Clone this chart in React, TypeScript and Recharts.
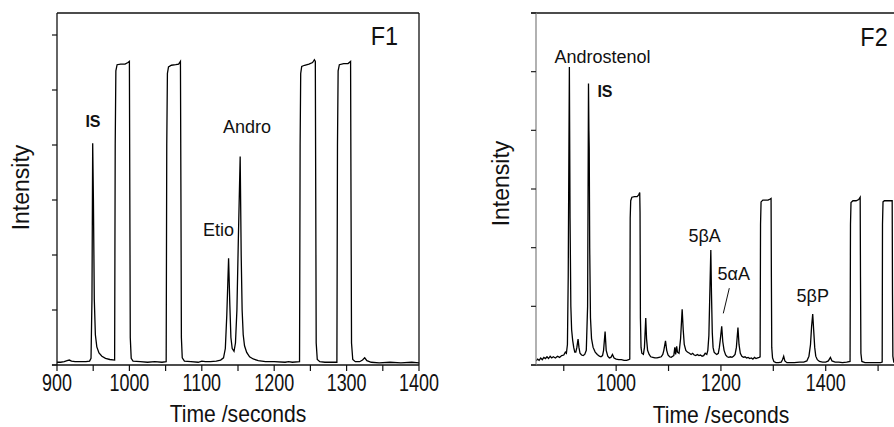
import React from 'react';
import { LineChart, Line, XAxis, YAxis, ReferenceDot, ReferenceLine } from 'recharts';

const FONT = '"Liberation Sans", Arial, Helvetica, sans-serif';

// ---------- Panel F1 ----------
const f1Time = [
  900, 905, 910, 914, 917, 920, 925, 932, 940, 945, 947, 948.3, 949.3, 950.3, 951.5, 953, 955, 958, 962, 967, 973,
  979.6, 980.4, 981.3, 983, 988, 994, 998, 1000, 1000.6, 1001.2, 1002.5, 1005, 1015, 1025, 1035, 1045,
  1050.8, 1051.6, 1052.5, 1054, 1058, 1064, 1068, 1070.5, 1071.2, 1071.8, 1073, 1076, 1085, 1095, 1100, 1105,
  1112, 1120, 1126, 1130, 1132.5, 1134.5, 1137, 1138.7, 1140.2, 1142, 1144.5, 1146.5, 1148.5, 1150.5, 1153,
  1154.4, 1155.7, 1157.2, 1159, 1162, 1166, 1171, 1178, 1188, 1200, 1215, 1220, 1225, 1235, 1235.8, 1236.6,
  1238, 1242, 1248, 1253, 1255.5, 1256.8, 1257.4, 1258, 1259.5, 1263, 1270, 1280, 1286.6, 1287.4, 1288.3,
  1290, 1296, 1302, 1305.5, 1306.1, 1306.8, 1308.5, 1312, 1318, 1322, 1325, 1328, 1334, 1345, 1360, 1375,
  1390, 1400,
];
const f1Intensity = [
  0.05, 0.05, 0.06, 0.08, 0.09, 0.07, 0.06, 0.06, 0.06, 0.07, 0.12, 1.2, 4.03, 3.0, 1.2, 0.55, 0.33, 0.22, 0.16, 0.12, 0.1,
  0.09, 4.0, 5.35, 5.46, 5.47, 5.47, 5.5, 5.52, 3.0, 0.5, 0.12, 0.07, 0.06, 0.05, 0.06, 0.05,
  0.06, 4.0, 5.3, 5.42, 5.45, 5.46, 5.47, 5.52, 3.0, 0.5, 0.13, 0.07, 0.06, 0.05, 0.07, 0.06,
  0.06, 0.07, 0.09, 0.13, 0.3, 0.9, 1.94, 1.1, 0.5, 0.3, 0.25, 0.4, 1.0, 2.3, 3.79,
  2.0, 1.0, 0.55, 0.35, 0.23, 0.15, 0.11, 0.08, 0.06, 0.06, 0.05, 0.06, 0.05, 0.06, 4.0, 5.3,
  5.43, 5.45, 5.47, 5.5, 5.55, 5.52, 3.0, 0.4, 0.1, 0.06, 0.05, 0.05, 0.05, 4.0, 5.35,
  5.46, 5.48, 5.48, 5.52, 3.0, 0.4, 0.1, 0.06, 0.06, 0.09, 0.13, 0.08, 0.05, 0.04, 0.05, 0.04,
  0.05, 0.04,
];
const f1XTicks = [900, 950, 1000, 1050, 1100, 1150, 1200, 1250, 1300, 1350, 1400];
const f1XLabels = [900, 1000, 1100, 1200, 1300, 1400];
const f1YTicks = [0, 1, 2, 3, 4, 5, 6];
const f1Labels = [
  { text: 'IS', t: 949.7, v: 4.33, bold: true },
  { text: 'Andro', t: 1162.4, v: 4.22, bold: false },
  { text: 'Etio', t: 1123, v: 2.35, bold: false },
];
const f1Title = { text: 'F1', t: 1352.3, v: 5.82 };

// ---------- Panel F2 ----------
const f2Time = [
  847, 850, 853, 856, 859, 862, 865, 868, 871, 874, 877, 880, 884, 888, 892, 896, 900, 903, 905, 907, 908.5,
  910.7, 912, 913.5, 915, 917, 919, 921, 923, 925, 927.3, 929, 931, 934, 937, 940, 943, 945.5, 947.2, 948,
  948.6, 949.5, 951, 953, 956, 960, 964, 968, 971, 974, 976, 978.9, 981, 984, 987, 990, 993, 996, 1000, 1005,
  1010, 1015, 1020, 1024, 1026, 1026.8, 1027.8, 1030, 1035, 1040, 1043, 1045, 1045.6, 1046.3, 1047.5, 1049,
  1052, 1054, 1056.5, 1058, 1060, 1063, 1066, 1070, 1074, 1078, 1082, 1086, 1089, 1091, 1094.2, 1096.5, 1099,
  1102, 1105, 1108, 1110, 1112, 1113.5, 1115.5, 1117, 1120, 1123, 1126, 1128, 1130, 1133, 1136, 1140, 1143,
  1146, 1149, 1152, 1155, 1158, 1161, 1164, 1167, 1170, 1173, 1175, 1177, 1179, 1180.7, 1182, 1183.5, 1185,
  1187, 1189, 1192, 1195, 1197, 1199, 1201.5, 1203.5, 1206, 1209, 1212, 1215, 1218, 1221, 1224, 1227, 1229.5,
  1232.5, 1234.5, 1237, 1240, 1243, 1246, 1249, 1252, 1255, 1258, 1261, 1264, 1267, 1270, 1273, 1274.8,
  1275.6, 1276.6, 1280, 1285, 1290, 1294, 1295.7, 1296.3, 1297, 1298.5, 1301, 1305, 1310, 1315, 1317.5,
  1319.8, 1322, 1326, 1332, 1340, 1350, 1358, 1364, 1368, 1371, 1373, 1375.2, 1377, 1379, 1381, 1384, 1388,
  1394, 1400, 1405, 1409, 1412, 1418, 1425, 1432, 1440, 1446.5, 1447.3, 1448.3, 1452, 1458, 1463, 1465.8,
  1466.4, 1467.2, 1469, 1475, 1485, 1495, 1505, 1507.8, 1508.4, 1509.4, 1512, 1520, 1526.9, 1527.5, 1528.2,
  1530, 1538,
];
const f2Intensity = [
  0.07, 0.1, 0.08, 0.12, 0.09, 0.13, 0.11, 0.14, 0.11, 0.15, 0.12, 0.14, 0.12, 0.15, 0.13, 0.16, 0.17, 0.22, 0.2, 0.35, 1.5,
  5.08, 2.5, 1.0, 0.6, 0.42, 0.3, 0.22, 0.22, 0.3, 0.44, 0.3, 0.2, 0.17, 0.16, 0.18, 0.25, 1.0, 4.8, 4.0,
  3.69, 2.0, 0.8, 0.45, 0.3, 0.22, 0.18, 0.15, 0.14, 0.16, 0.25, 0.57, 0.25, 0.15, 0.12, 0.13, 0.18, 0.12, 0.1, 0.09,
  0.09, 0.08, 0.08, 0.09, 0.1, 2.5, 2.8, 2.86, 2.87, 2.87, 2.9, 2.94, 2.6, 0.8, 0.3, 0.2,
  0.18, 0.3, 0.8, 0.45, 0.25, 0.18, 0.14, 0.13, 0.12, 0.12, 0.13, 0.14, 0.18, 0.25, 0.41, 0.25, 0.17,
  0.14, 0.13, 0.15, 0.16, 0.3, 0.18, 0.32, 0.22, 0.2, 0.45, 0.95, 0.6, 0.35, 0.25, 0.22, 0.2, 0.18,
  0.2, 0.17, 0.16, 0.18, 0.16, 0.17, 0.15, 0.16, 0.2, 0.18, 0.25, 0.5, 1.3, 1.96, 1.2, 0.55, 0.3,
  0.22, 0.2, 0.18, 0.2, 0.3, 0.45, 0.66, 0.4, 0.25, 0.17, 0.14, 0.13, 0.14, 0.13, 0.15, 0.18, 0.3,
  0.64, 0.35, 0.2, 0.15, 0.13, 0.14, 0.12, 0.13, 0.11, 0.12, 0.1, 0.13, 0.11, 0.12, 0.13, 0.14,
  2.4, 2.78, 2.81, 2.81, 2.81, 2.83, 2.84, 1.5, 0.3, 0.12, 0.06, 0.04, 0.04, 0.05, 0.09,
  0.15, 0.07, 0.04, 0.04, 0.04, 0.05, 0.05, 0.07, 0.15, 0.35, 0.65, 0.87, 0.6, 0.3, 0.15, 0.09, 0.06,
  0.05, 0.05, 0.07, 0.13, 0.07, 0.05, 0.05, 0.04, 0.05, 0.06, 2.4, 2.77, 2.8, 2.8, 2.82, 2.86,
  1.5, 0.2, 0.06, 0.04, 0.04, 0.04, 0.04, 0.05, 2.4, 2.78, 2.8, 2.8, 2.8, 1.2, 0.15,
  0.05, 0.04,
];
const f2XTicks = [900, 1000, 1100, 1200, 1300, 1400, 1500];
const f2XLabels = [1000, 1200, 1400];
const f2YTicks = [0, 1, 2, 3, 4, 5, 6];
const f2Labels = [
  { text: 'Androstenol', t: 973.9, v: 5.15, bold: false },
  { text: 'IS', t: 978.7, v: 4.57, bold: true },
  { text: '5βA', t: 1169, v: 2.1, bold: false },
  { text: '5αA', t: 1224.4, v: 1.45, bold: false },
  { text: '5βP', t: 1375.2, v: 1.07, bold: false },
];
const f2Title = { text: 'F2', t: 1492.2, v: 5.44 };
const f2Pointer = [
  { t: 1216, v: 1.31 },
  { t: 1204.5, v: 0.88 },
];

const f1Data = f1Time.map((t, i) => ({ t, v: f1Intensity[i] }));
const f2Data = f2Time.map((t, i) => ({ t, v: f2Intensity[i] }));

const makeXTick = (labels: number[]) => (props: any) => {
  const { x, y, payload } = props;
  if (!labels.includes(payload.value)) return <g />;
  return (
    <text
      transform={`translate(${x},${y + 18}) scale(0.78,1)`}
      textAnchor="middle"
      fontFamily={FONT}
      fontSize={23}
      fill="#111"
    >
      {payload.value}
    </text>
  );
};

const noTickLabel = () => <g />;

const peakLabel = (a: { text: string; bold: boolean }) => ({
  content: (p: any) => {
    const vb = p.viewBox || { x: 0, y: 0 };
    return (
      <text
        x={vb.x}
        y={vb.y}
        textAnchor="middle"
        fontFamily={FONT}
        fontSize={a.bold ? 16 : 18}
        fontWeight={a.bold ? 'bold' : 'normal'}
        fill="#111"
      >
        {a.text}
      </text>
    );
  },
});

const titleLabel = (text: string) => ({
  content: (p: any) => {
    const vb = p.viewBox || { x: 0, y: 0 };
    return (
      <text
        transform={`translate(${vb.x},${vb.y}) scale(0.9,1)`}
        textAnchor="middle"
        fontFamily={FONT}
        fontSize={26}
        fill="#111"
      >
        {text}
      </text>
    );
  },
});

const xTitle = (dx: number, dy: number) => ({
  content: (p: any) => {
    const vb = p.viewBox || { x: 0, y: 0, width: 0 };
    const cx = vb.x + vb.width / 2 + dx;
    const cy = vb.y + dy;
    return (
      <text
        transform={`translate(${cx},${cy}) scale(0.92,1)`}
        textAnchor="middle"
        fontFamily={FONT}
        fontSize={23}
        fill="#111"
      >
        Time /seconds
      </text>
    );
  },
});

const yTitle = (cx: number, dy: number) => ({
  content: (p: any) => {
    const vb = p.viewBox || { y: 13, height: 352 };
    const cy = vb.y + vb.height / 2 + dy;
    return (
      <text
        x={cx}
        y={cy}
        transform={`rotate(-90 ${cx} ${cy})`}
        textAnchor="middle"
        fontFamily={FONT}
        fontSize={23}
        fill="#111"
      >
        Intensity
      </text>
    );
  },
});

export default function App() {
  return (
    <div
      style={{
        position: 'fixed',
        left: 0,
        top: 0,
        width: 894,
        height: 427,
        overflow: 'hidden',
        background: '#fff',
      }}
    >
      <div style={{ position: 'absolute', left: 0, top: 0 }}>
        <LineChart width={440} height={427} data={f1Data} margin={{ top: 13, right: 21, bottom: 0, left: 0 }}>
          <XAxis
            dataKey="t"
            type="number"
            domain={[900, 1400]}
            ticks={f1XTicks}
            interval={0}
            allowDataOverflow
            height={62}
            tickSize={6}
            axisLine={{ stroke: '#111', strokeWidth: 1.3 }}
            tickLine={{ stroke: '#111', strokeWidth: 1.2 }}
            tick={makeXTick(f1XLabels)}
            label={xTitle(0, 56.5)}
          />
          <YAxis
            type="number"
            domain={[0, 6.4]}
            ticks={f1YTicks}
            interval={0}
            allowDataOverflow
            width={57}
            tickSize={5}
            tick={noTickLabel}
            axisLine={{ stroke: '#111', strokeWidth: 1.3 }}
            tickLine={{ stroke: '#111', strokeWidth: 1.2 }}
            label={yTitle(28.5, -1.5)}
          />
          <ReferenceLine y={6.4} stroke="#111" strokeWidth={1.3} />
          <ReferenceLine x={1400} stroke="#111" strokeWidth={1.3} />
          <ReferenceLine
            segment={[{ x: 893, y: 0 }, { x: 900, y: 0 }]}
            ifOverflow="visible"
            stroke="#111"
            strokeWidth={1.3}
          />
          <Line
            dataKey="v"
            type="linear"
            dot={false}
            stroke="#000"
            strokeWidth={1.3}
            isAnimationActive={false}
          />
          {f1Labels.map((a) => (
            <ReferenceDot key={a.text} x={a.t} y={a.v} r={0} fill="none" stroke="none" label={peakLabel(a)} />
          ))}
          <ReferenceDot x={f1Title.t} y={f1Title.v} r={0} fill="none" stroke="none" label={titleLabel(f1Title.text)} />
        </LineChart>
      </div>
      <div style={{ position: 'absolute', left: 480, top: 0 }}>
        <LineChart width={480} height={427} data={f2Data} margin={{ top: 13, right: 62, bottom: 0, left: 0 }}>
          <XAxis
            dataKey="t"
            type="number"
            domain={[847, 1538]}
            ticks={f2XTicks}
            interval={0}
            allowDataOverflow
            height={62}
            tickSize={6}
            axisLine={{ stroke: '#111', strokeWidth: 1.3 }}
            tickLine={{ stroke: '#111', strokeWidth: 1.2 }}
            tick={makeXTick(f2XLabels)}
            label={xTitle(4, 57.5)}
          />
          <YAxis
            type="number"
            domain={[0, 6]}
            ticks={f2YTicks}
            interval={0}
            allowDataOverflow
            width={56}
            tickSize={5}
            tick={noTickLabel}
            axisLine={{ stroke: '#888', strokeWidth: 1.3 }}
            tickLine={{ stroke: '#222', strokeWidth: 1.2 }}
            label={yTitle(28.5, -5.5)}
          />
          <ReferenceLine
            segment={[{ x: 837.5, y: 6 }, { x: 1538, y: 6 }]}
            ifOverflow="visible"
            stroke="#111"
            strokeWidth={1.3}
          />
          <ReferenceLine
            segment={[{ x: 837.5, y: 0 }, { x: 847, y: 0 }]}
            ifOverflow="visible"
            stroke="#111"
            strokeWidth={1.3}
          />
          <Line
            dataKey="v"
            type="linear"
            dot={false}
            stroke="#000"
            strokeWidth={1.3}
            isAnimationActive={false}
          />
          <ReferenceLine
            segment={f2Pointer.map((p) => ({ x: p.t, y: p.v }))}
            stroke="#111"
            strokeWidth={1}
          />
          {f2Labels.map((a) => (
            <ReferenceDot key={a.text} x={a.t} y={a.v} r={0} fill="none" stroke="none" label={peakLabel(a)} />
          ))}
          <ReferenceDot x={f2Title.t} y={f2Title.v} r={0} fill="none" stroke="none" label={titleLabel(f2Title.text)} />
        </LineChart>
      </div>
    </div>
  );
}
